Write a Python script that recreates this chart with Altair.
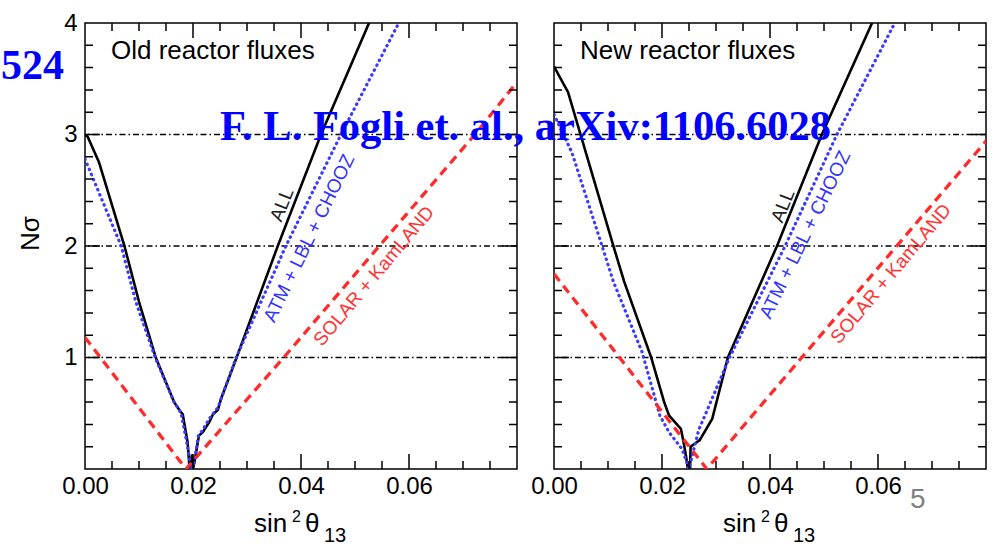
import altair as alt
import pandas as pd

SANS = "Liberation Sans"
SERIF = "Liberation Serif"

# ---------------- data ----------------
# Left panel: old reactor fluxes
all_old_x = [0.0, 0.0005, 0.0026, 0.0073, 0.0100, 0.0131, 0.0165, 0.0176, 0.0181, 0.0190,
             0.0193, 0.0195, 0.0198, 0.0200, 0.0204, 0.0211, 0.0218, 0.0230, 0.0237, 0.0246,
             0.0252, 0.0280, 0.0357, 0.0437, 0.0526]
all_old_y = [3.0, 2.98, 2.75, 2.0, 1.5, 1.0, 0.6, 0.52, 0.49, 0.24,
             0.05, 0.0, 0.13, 0.0, 0.1, 0.3, 0.33, 0.42, 0.49, 0.53,
             0.63, 0.99, 2.0, 3.0, 4.0]
atm_old_x = [0.0, 0.0067, 0.0094, 0.0130, 0.0165, 0.0178, 0.0190, 0.0196, 0.0202, 0.0210,
             0.0218, 0.0230, 0.0246, 0.0280, 0.0372, 0.0474, 0.0581]
atm_old_y = [2.78, 2.0, 1.5, 1.0, 0.6, 0.5, 0.2, 0.0, 0.05, 0.3,
             0.35, 0.45, 0.55, 1.0, 2.0, 3.0, 4.0]
sol_old_x = [0.0, 0.0187, 0.0368, 0.0545, 0.0722, 0.080]
sol_old_y = [1.18, 0.0, 1.0, 2.0, 3.0, 3.47]

# Right panel: new reactor fluxes
all_new_x = [0.0, 0.0026, 0.0110, 0.0130, 0.0180, 0.0204, 0.0213, 0.0235, 0.0240, 0.0245,
             0.0248, 0.0252, 0.0253, 0.0270, 0.0293, 0.0322, 0.0413, 0.0496, 0.0589]
all_new_y = [3.61, 3.38, 2.0, 1.68, 1.0, 0.6, 0.48, 0.36, 0.24, 0.1,
             0.0, 0.0, 0.2, 0.26, 0.45, 1.0, 2.0, 3.0, 4.0]
atm_new_x = [0.0, 0.0033, 0.0089, 0.0110, 0.0163, 0.0196, 0.0213, 0.0237, 0.0246, 0.0250,
             0.0255, 0.0268, 0.0290, 0.0325, 0.0428, 0.0524, 0.0631]
atm_new_y = [3.18, 2.84, 2.0, 1.68, 1.05, 0.48, 0.33, 0.18, 0.06, 0.0,
             0.1, 0.35, 0.6, 1.0, 2.0, 3.0, 4.0]
sol_new_x = [0.0, 0.0283, 0.080]
sol_new_y = [1.75, 0.0, 2.94]

# curve labels: (text, x, y) in data units
lab_old = {"ALL": (0.0365, 2.37), "ATM + LBL + CHOOZ": (0.0415, 2.07), "SOLAR + KamLAND": (0.0535, 1.73)}
lab_new = {"ALL": (0.0424, 2.36), "ATM + LBL + CHOOZ": (0.0465, 2.10), "SOLAR + KamLAND": (0.0624, 1.75)}

# axes
x_domain = [0.0, 0.08]
y_domain = [0.0, 4.0]
x_labels = [0.0, 0.02, 0.04, 0.06]
y_labels = [1, 2, 3, 4]
x_major = [0.02, 0.04, 0.06]
x_minor = [0.005, 0.01, 0.015, 0.025, 0.03, 0.035, 0.045, 0.05, 0.055, 0.065, 0.07, 0.075]
y_major = [1, 2, 3]
y_minor = [0.2, 0.4, 0.6, 0.8, 1.2, 1.4, 1.6, 1.8, 2.2, 2.4, 2.6, 2.8, 3.2, 3.4, 3.6, 3.8]
sigma_lines = [1, 2, 3]

panel_titles = ["Old reactor fluxes", "New reactor fluxes"]

# ---------------- chart ----------------
W, H = 432, 446
one = pd.DataFrame({"a": [0]})
xs = alt.Scale(domain=x_domain, nice=False, zero=False)
ys = alt.Scale(domain=y_domain, nice=False, zero=False)
PX_X = (x_domain[1] - x_domain[0]) / W   # data units per pixel
PX_Y = (y_domain[1] - y_domain[0]) / H

BLACK = "#000000"
BLUE = "#3b3bff"
RED = "#ff2a2a"


def curve(xv, yv, color, dash, width, cap="butt"):
    df = pd.DataFrame({"x": xv, "y": yv, "i": list(range(len(xv)))})
    return alt.Chart(df).mark_line(color=color, strokeDash=dash, strokeWidth=width, strokeCap=cap,
                                   clip=True).encode(
        x=alt.X("x:Q", scale=xs), y=alt.Y("y:Q", scale=ys), order="i:Q")


def curve_label(text, pos, color, angle):
    df = pd.DataFrame({"x": [pos[0]], "y": [pos[1]], "t": [text]})
    return alt.Chart(df).mark_text(color=color, angle=angle, fontSize=19, font=SANS,
                                   align="center", baseline="middle").encode(
        x=alt.X("x:Q", scale=xs), y=alt.Y("y:Q", scale=ys), text="t:N")


def txt(text, x, y, size, color="black", font=SANS, weight="normal", align="left"):
    return alt.Chart(one).mark_text(text=text, fontSize=size, font=font, fontWeight=weight,
                                    color=color, align=align, baseline="alphabetic").encode(
        x=alt.value(x), y=alt.value(y))


def tick_frame(major_len=15, minor_len=8):
    """All inward frame ticks as two-point segments, one curve layer each."""
    segs = []
    for vals, ln in ((x_major, major_len), (x_minor, minor_len)):
        for v in vals:
            segs.append(curve([v, v], [y_domain[0], y_domain[0] + ln * PX_Y], BLACK, [1, 0], 1.5))
            segs.append(curve([v, v], [y_domain[1], y_domain[1] - ln * PX_Y], BLACK, [1, 0], 1.5))
    for vals, ln in ((y_major, major_len), (y_minor, minor_len)):
        for v in vals:
            segs.append(curve([x_domain[0], x_domain[0] + ln * PX_X], [v, v], BLACK, [1, 0], 1.5))
            segs.append(curve([x_domain[1], x_domain[1] - ln * PX_X], [v, v], BLACK, [1, 0], 1.5))
    return segs


def panel(idx, curves, labels):
    xaxis = alt.Axis(values=x_labels, format=".2f", labelFontSize=24, labelFont=SANS, labelColor="black",
                     ticks=False, tickSize=0, domain=False, grid=False, title=None, labelPadding=5,
                     labelFlush=False, labelOverlap=False)
    if idx == 0:
        yaxis = alt.Axis(values=y_labels, format="d", labelFontSize=24, labelFont=SANS, labelColor="black",
                         ticks=False, tickSize=0, domain=False, grid=False, labelPadding=8,
                         labelFlush=False, labelOverlap=False,
                         title="Nσ", titleFont=SANS, titleFontSize=26, titleFontWeight="normal",
                         titleColor="black", titleAngle=270, titleX=-55, titleY=210,
                         titleAlign="center", titleBaseline="middle")
    else:
        yaxis = None
    sig = alt.Chart(pd.DataFrame({"s": sigma_lines})).mark_rule(
        color="black", strokeWidth=1.3, strokeDash=[6, 3, 1.5, 3]).encode(
        y=alt.Y("s:Q", scale=ys, axis=yaxis))
    axis_holder = alt.Chart(pd.DataFrame({"v": [0.0]})).mark_point(opacity=0).encode(
        x=alt.X("v:Q", scale=xs, axis=xaxis), y=alt.Y("v:Q", scale=ys, axis=yaxis))
    layers = [axis_holder, sig]
    (ax, ay), (bx, by), (rx, ry) = curves
    layers += [curve(ax, ay, BLACK, [1, 0], 2.6),
               curve(bx, by, BLUE, [0.5, 5], 3.2, cap="round"),
               curve(rx, ry, RED, [9, 6], 3.3)]
    layers += tick_frame()
    layers += [curve_label("ALL", labels["ALL"], "#222222", 292),
               curve_label("ATM + LBL + CHOOZ", labels["ATM + LBL + CHOOZ"], "#3333ff", 296),
               curve_label("SOLAR + KamLAND", labels["SOLAR + KamLAND"], "#ff3333", 310)]
    layers += [txt(panel_titles[idx], 26, 36, 26)]
    # x-axis title: sin^2 theta_13
    layers += [txt("sin", 169, H + 63, 26), txt("2", 207, H + 53, 16),
               txt("θ", 220, H + 63, 26), txt("13", 239, H + 73, 20)]
    if idx == 0:
        layers += [txt("524", -84, 56, 42, color="#0000ff", font=SERIF, weight="bold")]
    else:
        layers += [txt("F. L. Fogli et. al., arXiv:1106.6028", -334, 117, 42.5,
                       color="#0000ff", font=SERIF, weight="bold"),
                   txt("5", 356, 485, 28, color="#808080")]
    return alt.layer(*layers).properties(width=W, height=H)


left = panel(0, [(all_old_x, all_old_y), (atm_old_x, atm_old_y), (sol_old_x, sol_old_y)], lab_old)
right = panel(1, [(all_new_x, all_new_y), (atm_new_x, atm_new_y), (sol_new_x, sol_new_y)], lab_new)

chart = alt.hconcat(left, right, spacing=37, bounds="flush").properties(
    padding={"left": 0, "top": 10, "right": 0, "bottom": 0},
    background="white",
).configure_view(stroke="black", strokeWidth=1.5)

chart.save("out.html", embed_options={"renderer": "svg", "actions": False})
